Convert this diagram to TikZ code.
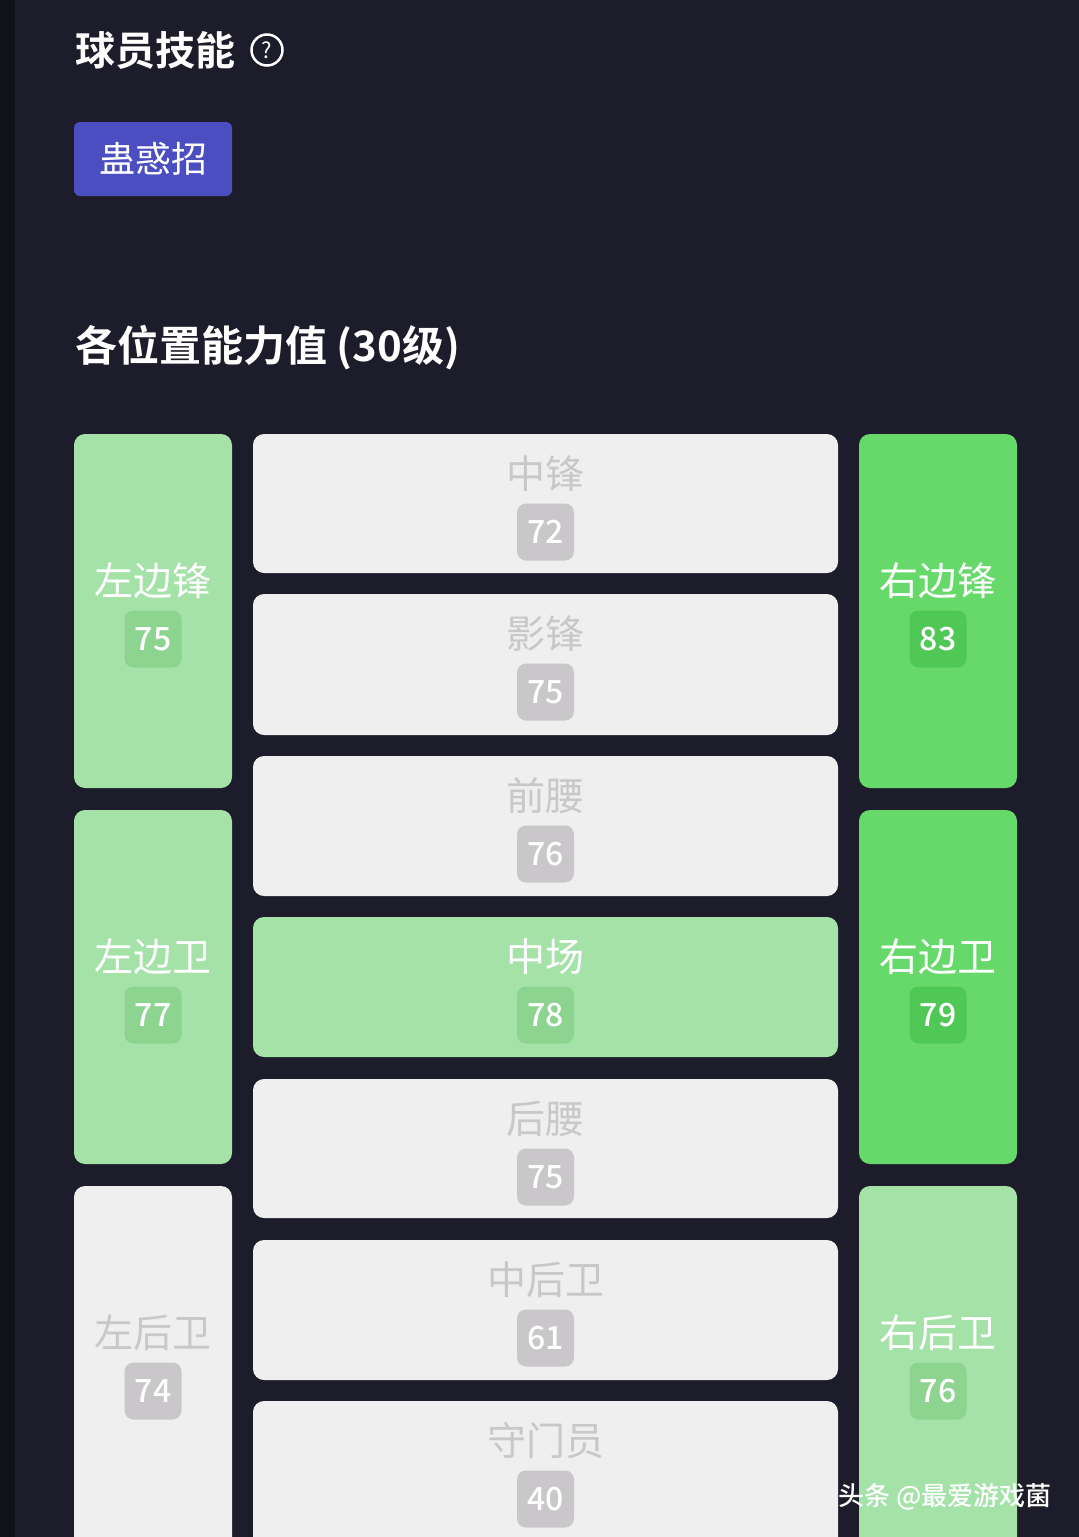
\documentclass[tikz,border=0pt]{standalone}
\usepackage{fontspec}
\setmainfont{Noto Sans CJK SC}
\newfontfamily\cjkb{Noto Sans CJK SC Bold}
\newfontfamily\cjkm{Noto Sans CJK SC Medium}
\definecolor{bg}{HTML}{1C1C2A}
\definecolor{strip}{HTML}{111119}
\definecolor{btn}{HTML}{4A4EC0}
\definecolor{lgray}{HTML}{EFEFEF}
\definecolor{gtext}{HTML}{C8C8C8}
\definecolor{gbadge}{HTML}{C9C7C9}
\definecolor{lgreen}{HTML}{A5E2A8}
\definecolor{lgbadge}{HTML}{8CD48F}
\definecolor{bgreen}{HTML}{66D96A}
\definecolor{bgbadge}{HTML}{4FC855}
\tikzset{
 cell/.style={rounded corners=11pt},
 nm/.style={font=\fontsize{39}{42}\selectfont, inner sep=0pt},
 badge/.style={rounded corners=9pt, minimum width=57pt, minimum height=57pt, inner sep=0pt, font=\cjkm\fontsize{32}{36}\selectfont, text=white},
}
\begin{document}
\begin{tikzpicture}[x=1pt,y=1pt]
\fill[bg] (0,0) rectangle (1079,-1537);
\fill[strip] (0,0) rectangle (15,-1537);
\useasboundingbox (0,0) rectangle (1079,-1537);
\node[anchor=west,text=white,inner sep=0pt,font=\cjkb\fontsize{40}{44}\selectfont] (title) at (75,-50) {球员技能};
\node[draw=white,line width=2.5pt,circle,minimum size=31pt,inner sep=0pt,text=white,font=\fontsize{22}{24}\selectfont] (q) at (267,-50) {?};
\fill[btn,rounded corners=6pt] (74,-122) rectangle (232,-196);
\node[text=white,font=\fontsize{36}{40}\selectfont] (btn) at (153,-159) {蛊惑招};
\node[anchor=west,text=white,inner sep=0pt,font=\cjkb\fontsize{42}{46}\selectfont] (t2) at (75,-348) {各位置能力值 (30级)};
\def\cellA#1#2#3#4#5#6#7#8#9{%
 \fill[#5,cell] (#1,-#2) rectangle (#3,-#4);
 \node[nm,text=#6] at ({(#1+#3)/2},{-#2-#9}) {#7};
 \node[badge,fill=#8] at ({(#1+#3)/2},{-#2-#9-58}) {\cellnum};}
\def\cellnum{75}\cellA{74}{434}{232}{788}{lgreen}{white}{左边锋}{lgbadge}{147}
\def\cellnum{77}\cellA{74}{810}{232}{1164}{lgreen}{white}{左边卫}{lgbadge}{147}
\def\cellnum{74}\cellA{74}{1186}{232}{1550}{lgray}{gtext}{左后卫}{gbadge}{147}
\def\cellnum{83}\cellA{859}{434}{1017}{788}{bgreen}{white}{右边锋}{bgbadge}{147}
\def\cellnum{79}\cellA{859}{810}{1017}{1164}{bgreen}{white}{右边卫}{bgbadge}{147}
\def\cellnum{76}\cellA{859}{1186}{1017}{1550}{lgreen}{white}{右后卫}{lgbadge}{147}
\def\cellnum{72}\cellA{253}{434}{838}{573}{lgray}{gtext}{中锋}{gbadge}{40}
\def\cellnum{75}\cellA{253}{594}{838}{735}{lgray}{gtext}{影锋}{gbadge}{40}
\def\cellnum{76}\cellA{253}{756}{838}{896}{lgray}{gtext}{前腰}{gbadge}{40}
\def\cellnum{78}\cellA{253}{917}{838}{1057}{lgreen}{white}{中场}{lgbadge}{40}
\def\cellnum{75}\cellA{253}{1079}{838}{1218}{lgray}{gtext}{后腰}{gbadge}{40}
\def\cellnum{61}\cellA{253}{1240}{838}{1380}{lgray}{gtext}{中后卫}{gbadge}{40}
\def\cellnum{40}\cellA{253}{1401}{838}{1550}{lgray}{gtext}{守门员}{gbadge}{40}
\node[anchor=east,text=white,inner sep=0pt,font=\cjkm\fontsize{26}{30}\selectfont] (wm) at (1052,-1497) {头条 @最爱游戏菌};
\end{tikzpicture}
\end{document}
